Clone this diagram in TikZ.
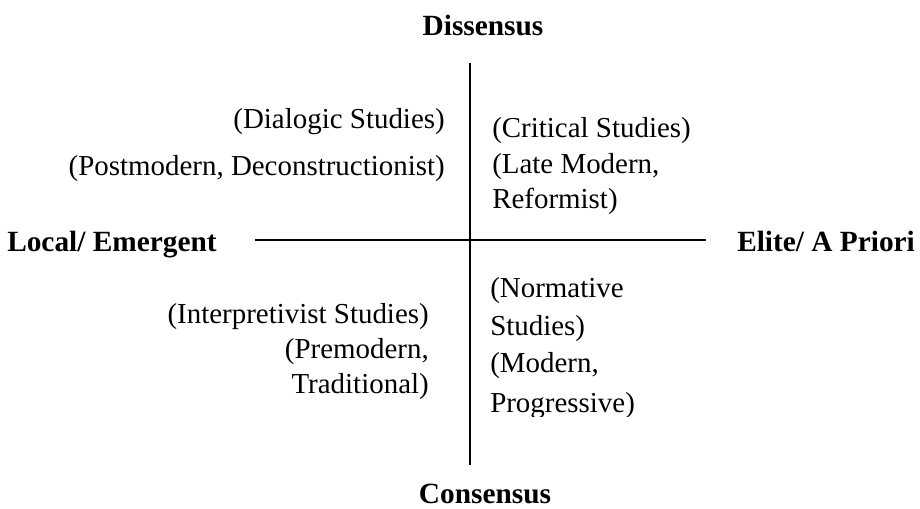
\documentclass[tikz,border=0pt]{standalone}
\usepackage{fontspec}
\setmainfont{Liberation Serif}
\usetikzlibrary{positioning}

\tikzset{
  axis/.style={draw=black, line width=1.2pt},
  pole/.style={font=\fontsize{22}{26}\selectfont\bfseries, inner sep=0pt},
  quadtext/.style={font=\fontsize{21.7}{26}\selectfont, inner sep=0pt}
}

\begin{document}
\begin{tikzpicture}[x=0.75pt, y=-0.75pt]
  \useasboundingbox (0,0) rectangle (920,508);
  \coordinate (top) at (470,63);
  \coordinate (bottom) at (470,465);
  \coordinate (left) at (255,240);
  \coordinate (right) at (706,240);
  \draw[axis] (top) -- (bottom);
  \draw[axis] (left) -- (right);
  % poles
  \node (diss) [pole, anchor=base] at (483,35) {Dissensus};
  \node (cons) [pole, anchor=base] at (485,503) {Consensus};
  \node (local) [pole, anchor=base west] at (7,251) {Local/ Emergent};
  \node (elite) [pole, anchor=base west] at (737,251) {Elite/ A Priori};
  % upper left
  \node (dial) [quadtext, anchor=base east] at (445,128) {(Dialogic Studies)};
  \node (post) [quadtext, anchor=base east] at (445,175) {(Postmodern, Deconstructionist)};
  % upper right
  \node (crit) [quadtext, anchor=base west] at (492,137) {(Critical Studies)};
  \node (late) [quadtext, anchor=base west] at (492,173) {(Late Modern,};
  \node (reform) [quadtext, anchor=base west] at (492,208) {Reformist)};
  % lower left
  \node (interp) [quadtext, anchor=base east] at (429,323) {(Interpretivist Studies)};
  \node (premod) [quadtext, anchor=base east] at (429,358) {(Premodern,};
  \node (trad) [quadtext, anchor=base east] at (429,393) {Traditional)};
  % lower right
  \node (norm) [quadtext, anchor=base west] at (490,297) {(Normative};
  \node (stud) [quadtext, anchor=base west] at (490,335) {Studies)};
  \node (mod) [quadtext, anchor=base west] at (490,372) {(Modern,};
  \begin{scope}
    \clip (480,380) rectangle (760,416);
    \node (prog) [quadtext, anchor=base west] at (490,412) {Progressive)};
  \end{scope}
\end{tikzpicture}
\end{document}
